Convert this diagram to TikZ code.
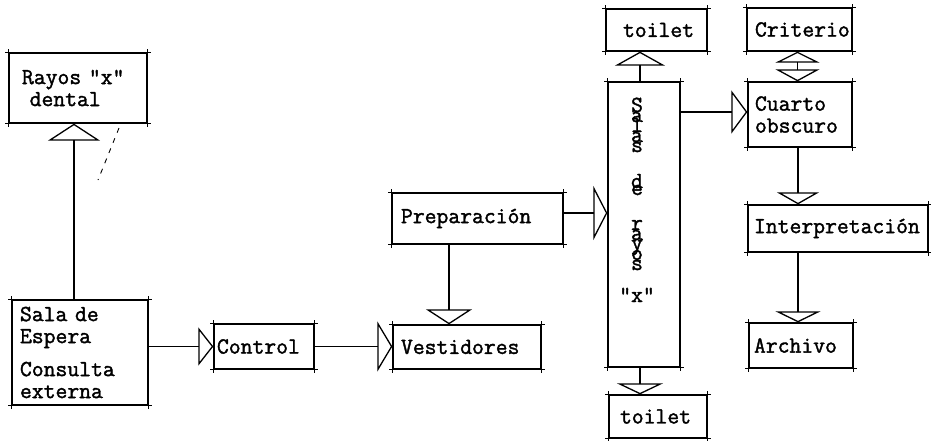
\documentclass[tikz,border=0pt]{standalone}
\usepackage{fontspec}
\newfontfamily\tw{Latin Modern Mono}[FakeBold=1.6]
\usetikzlibrary{arrows.meta}
\tikzset{
  box/.style={draw, line width=1.3pt, align=left, inner ysep=0pt,
    font=\tw\fontsize{23}{22}\selectfont},
  vt/.style={inner sep=0pt, font=\tw\fontsize{23}{22}\selectfont},
  conn/.style={line width=1.3pt},
  hd/.style 2 args={-{Triangle[open,length=#1,width=#2]}},
  tick/.style={line width=1pt}
}
\begin{document}
\begin{tikzpicture}[x=1pt,y=-1pt]
\useasboundingbox[fill=white] (0,0) rectangle (931,440);
% boxes
\node[box, text width=112pt, inner xsep=13pt, minimum height=70pt] (rayos) at (78,88) {Rayos "x"\\~dental};
\node[box, text width=120pt, inner xsep=8pt, minimum height=105pt] (sala) at (80,352.5) {Sala de\\Espera\\[11pt]Consulta\\externa};
\node[box, text width=94pt, inner xsep=3pt, minimum height=45pt] (control) at (264,346.5) {Control};
\node[box, text width=132pt, inner xsep=8pt, minimum height=44pt] (vest) at (467,347) {Vestidores};
\node[box, text width=153pt, inner xsep=9pt, minimum height=51pt] (prep) at (477.5,218.5) {Preparación};
\node[box, minimum width=72pt, minimum height=285pt, inner sep=0pt] (salas) at (644,224.5) {};
\node[box, text width=67pt, inner xsep=17pt, minimum height=42pt] (toiletA) at (656.5,30) {toilet};
\node[box, text width=76pt, inner xsep=11pt, minimum height=43pt] (toiletB) at (658,416.5) {toilet};
\node[box, text width=89pt, inner xsep=8pt, minimum height=43pt] (criterio) at (799.5,29.5) {Criterio};
\node[box, text width=90pt, inner xsep=7pt, minimum height=65pt] (cuarto) at (800,114.5) {Cuarto\\obscuro};
\node[box, text width=168pt, inner xsep=6pt, minimum height=47pt] (interp) at (838,228.5) {Interpretación};
\node[box, text width=94pt, inner xsep=5pt, minimum height=45pt] (archivo) at (801,345.5) {Archivo};
% vertical text in Salas box
\foreach \c/\yy [count=\i] in {S/112, a/122, l/132, a/142, s/152, d/188, e/195, r/230, a/240, y/250, o/260, s/270, {"x"}/302}
  \node[vt, anchor=base] (v\i) at (637,\yy) {\c};
% corner ticks
\foreach \n in {rayos,sala,control,vest,prep,salas,toiletA,toiletB,criterio,cuarto,interp,archivo}{
  \draw[tick] ([xshift=-3pt]\n.north west) -- ([xshift=3pt]\n.north east);
  \draw[tick] ([xshift=-3pt]\n.south west) -- ([xshift=3pt]\n.south east);
  \draw[tick] ([yshift=3pt]\n.north west) -- ([yshift=-3pt]\n.south west);
  \draw[tick] ([yshift=3pt]\n.north east) -- ([yshift=-3pt]\n.south east);
}
% connectors
\draw[conn, hd={17pt}{52pt}] ([xshift=-6pt]sala.north) -- ([xshift=-6pt]sala.north |- rayos.south);
\draw[conn, hd={15pt}{38pt}] (sala.east |- control.west) -- (control.west);
\draw[conn, hd={15pt}{50pt}] (control.east) -- (control.east -| vest.west);
\draw[conn, hd={15pt}{46pt}] ([xshift=-28.5pt]prep.south) -- ([xshift=-28.5pt]prep.south |- vest.north);
\draw[conn, hd={14pt}{54pt}] ([yshift=5.5pt]prep.east) -- ([yshift=5.5pt]prep.east -| salas.west);
\draw[conn, hd={14pt}{50pt}] ([xshift=-4pt]salas.north) -- ([xshift=-4pt]salas.north |- toiletA.south);
\draw[conn, hd={11pt}{46pt}] ([xshift=-4pt]salas.south) -- ([xshift=-4pt]salas.south |- toiletB.north);
\draw[conn, hd={16pt}{43pt}] ([yshift=2.5pt]cuarto.west -| salas.east) -- ([yshift=2.5pt]cuarto.west);
\draw[conn, {Triangle[open,length=11pt,width=44pt]}-{Triangle[open,length=12pt,width=44pt]}] ([xshift=-2pt]criterio.south) -- ([xshift=-2pt]criterio.south |- cuarto.north);
\draw[conn, hd={12pt}{42pt}] ([xshift=-2pt]cuarto.south) -- ([xshift=-2pt]cuarto.south |- interp.north);
\draw[conn, hd={11pt}{45pt}] ([xshift=-3pt]archivo.north |- interp.south) -- ([xshift=-3pt]archivo.north);
% faint dashed stroke near Rayos box
\coordinate (d1) at (119,128);
\coordinate (d2) at (98,180);
\draw[line width=0.9pt, dash pattern=on 5pt off 6pt] (d1) -- (d2);
\end{tikzpicture}
\end{document}
